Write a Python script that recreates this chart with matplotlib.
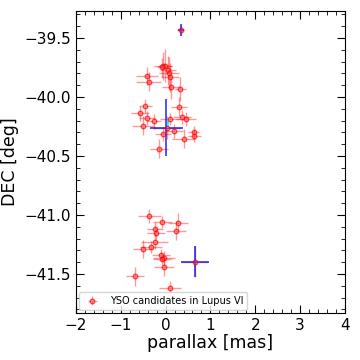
import matplotlib
matplotlib.use('Agg')
import matplotlib.pyplot as plt
from matplotlib.ticker import MultipleLocator
import numpy as np

# YSO candidates (parallax [mas], DEC [deg], errors)
plx = [0.34, -0.05, -0.01, -0.08, 0.05, 0.07, 0.09, -0.41, -0.38, 0.12, 0.33,
       -0.45, 0.30, -0.58, -0.42, -0.26, 0.10, 0.37, 0.45, -0.50, 0.03, 0.19,
       -0.05, 0.63, 0.64, 0.40, -0.15,
       -0.36, -0.07, 0.28, -0.24, 0.24, -0.22, -0.24, -0.33, -0.50, -0.11,
       -0.04, -0.07, -0.04, -0.68, 0.10, 0.65]
dec = [-39.43, -39.74, -39.735, -39.75, -39.775, -39.80, -39.834, -39.823, -39.871,
       -39.919, -39.933, -40.075, -40.083, -40.14, -40.177, -40.208, -40.185,
       -40.168, -40.188, -40.245, -40.26, -40.29, -40.315, -40.298, -40.329,
       -40.355, -40.44,
       -41.011, -41.057, -41.068, -41.119, -41.133, -41.155, -41.227, -41.269,
       -41.289, -41.339, -41.365, -41.376, -41.439, -41.52, -41.622, -41.396]
plx_err = [0.08, 0.20, 0.15, 0.12, 0.18, 0.22, 0.20, 0.25, 0.28, 0.20, 0.12,
           0.15, 0.18, 0.20, 0.18, 0.15, 0.22, 0.20, 0.22, 0.25, 0.30, 0.20,
           0.18, 0.12, 0.15, 0.25, 0.20,
           0.25, 0.22, 0.22, 0.18, 0.22, 0.20, 0.30, 0.25, 0.22, 0.20,
           0.25, 0.20, 0.22, 0.20, 0.25, 0.30]
dec_err = [0.04, 0.12, 0.14, 0.08, 0.12, 0.14, 0.12, 0.08, 0.08, 0.10, 0.10,
           0.06, 0.08, 0.06, 0.06, 0.06, 0.05, 0.06, 0.06, 0.08, 0.10, 0.06,
           0.06, 0.05, 0.05, 0.08, 0.08,
           0.06, 0.05, 0.08, 0.06, 0.08, 0.05, 0.06, 0.05, 0.08, 0.05,
           0.06, 0.05, 0.08, 0.08, 0.06, 0.13]

# highlighted sources
plx_b = [0.34, 0.02, 0.65]
dec_b = [-39.43, -40.26, -41.395]
plx_b_err = [0.07, 0.36, 0.31]
dec_b_err = [0.05, 0.24, 0.133]

plt.figure(figsize=(3.6, 3.6), dpi=100)
ax = plt.axes([0.211, 0.131, 0.747, 0.839])

ax.errorbar(plx, dec, xerr=plx_err, yerr=dec_err, fmt='o', color='red',
            ms=3.2, mfc=(1, 0.4, 0.4, 0.4), mec=(1, 0, 0, 0.7), mew=1,
            ecolor=(1, 0, 0, 0.4), elinewidth=1,
            label='YSO candidates in Lupus VI')
ax.errorbar(plx_b, dec_b, xerr=plx_b_err, yerr=dec_b_err, fmt='none',
            ecolor='blue', elinewidth=1.2, alpha=0.8)
ax.errorbar([0.05], [-40.225], xerr=[0.02], yerr=[0.04], fmt='none',
            ecolor='cyan', elinewidth=1.5, alpha=0.8)

ax.set_xlim(-2, 4)
ax.set_ylim(-41.83, -39.27)
ax.xaxis.set_major_locator(MultipleLocator(1))
ax.xaxis.set_minor_locator(MultipleLocator(0.2))
ax.yaxis.set_major_locator(MultipleLocator(0.5))
ax.yaxis.set_minor_locator(MultipleLocator(0.1))
ax.tick_params(which='both', direction='in', top=True, right=True, labelsize=11)
ax.tick_params(which='major', length=6)
ax.tick_params(which='minor', length=3)
ax.set_xlabel('parallax [mas]', fontsize=12.5, labelpad=1)
ax.set_ylabel('DEC [deg]', fontsize=12.5)
ax.legend(loc='lower left', fontsize=7, borderaxespad=0.3)

plt.savefig('out.png', dpi=100)
